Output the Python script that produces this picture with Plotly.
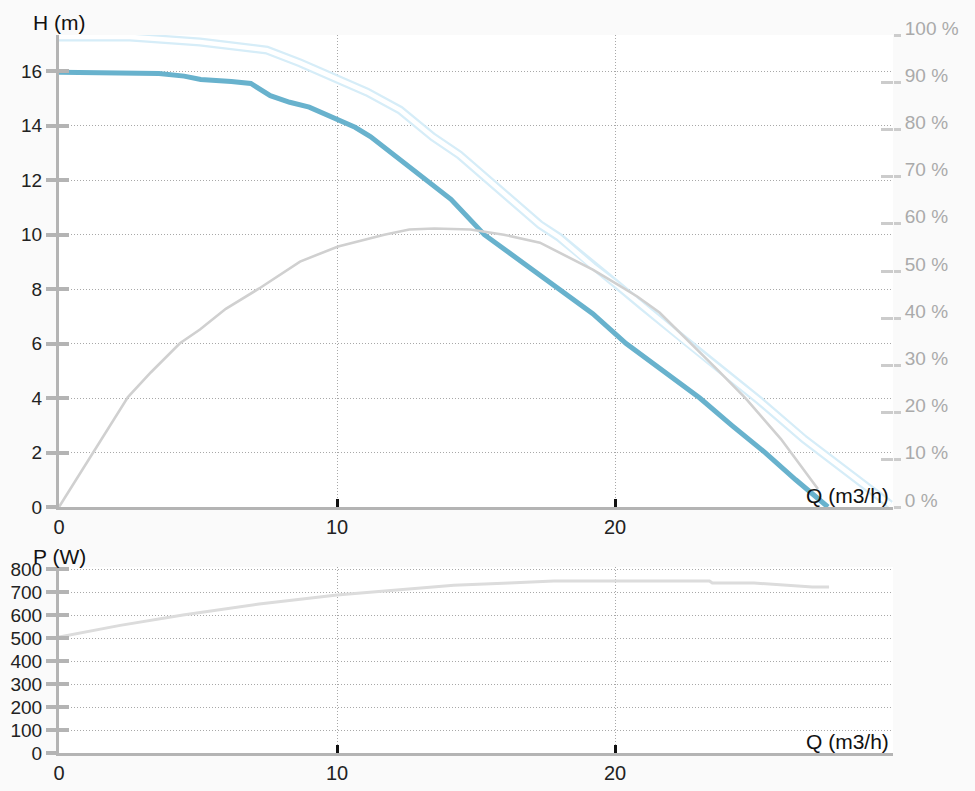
import plotly.graph_objects as go

# ---- data ----
q_head = [0, 2.0, 3.6, 4.5, 5.1, 6.2, 6.9, 7.6, 8.3, 9.0, 9.4, 10.0, 10.65, 11.2, 12.0,
          13.2, 14.1, 15.3, 16.5, 18.0, 19.2, 20.4, 21.5, 23.05, 24.2, 25.4, 26.5, 27.66]
head_m = [15.96, 15.95, 15.92, 15.82, 15.7, 15.62, 15.55, 15.1, 14.86, 14.68, 14.5, 14.2, 13.94,
          13.6, 12.95, 12.0, 11.3, 10.0, 9.1, 8.0, 7.1, 6.0, 5.15, 4.0, 3.0, 2.0, 1.0, 0.0]

q_eff = [0, 1.22, 2.48, 3.3, 4.35, 5.07, 6.0, 7.2, 8.67, 10.04, 11.7, 12.6, 13.5, 14.8, 16.0,
         17.3, 18.0, 19.2, 20.1, 20.8, 21.6, 22.7, 23.7, 24.7, 25.97, 27.3]
eff_pct = [0, 11.6, 23.3, 28.5, 34.7, 37.6, 42.0, 46.3, 52.0, 55.2, 57.7, 58.8, 59.0, 58.8, 57.7,
           56.0, 53.9, 50.3, 47.1, 44.6, 41.2, 34.9, 29.0, 23.0, 14.4, 3.8]

q_light = [0, 2.55, 5.07, 7.48, 8.67, 9.86, 11.08, 12.27, 13.45, 14.4, 15.86, 17.3, 18.0, 19.2,
           20.07, 21.0, 21.6, 22.45, 23.5, 25.2, 26.8, 28.3, 29.9]
light_pct = [99.6, 99.6, 98.5, 96.8, 94.1, 91.1, 87.9, 84.1, 78.4, 74.6, 67.2, 59.8, 57.1, 51.0,
             47.1, 42.5, 39.7, 35.5, 30.5, 22.5, 14.4, 7.8, 0.5]

q_power = [0, 2.2, 4.46, 7.2, 10.0, 13.0, 14.2, 16.2, 17.8, 23.4, 23.5, 25.0, 26.2, 27.1, 27.7]
power_w = [504, 555, 600, 648, 687, 717, 730, 739, 748, 748, 739, 739, 730, 722, 722]

x_ticks = [0, 10, 20]
h_ticks = [0, 2, 4, 6, 8, 10, 12, 14, 16]
pct_ticks = [0, 10, 20, 30, 40, 50, 60, 70, 80, 90, 100]
pct_labels = [f"{v} %" for v in pct_ticks]
p_ticks = [0, 100, 200, 300, 400, 500, 600, 700, 800]

H_RANGE = [0, 17.33]
PCT_RANGE = [0, 100]
P_RANGE = [0, 808.7]
Q_RANGE = [0, 30]

FONT = "Liberation Sans, Arial, sans-serif"
AX_GRAY = "#b4b4b4"
RT_GRAY = "#cccccc"
GRID = "#a8a8a8"
DOT = "1px,2px"

fig = go.Figure()

# head (base axis)
fig.add_trace(go.Scatter(x=q_head, y=head_m, xaxis="x", yaxis="y", mode="lines",
                         line=dict(color="#68b2cd", width=5), hoverinfo="skip", showlegend=False))
# light blue circle chain (drawn as a hollow band)
fig.add_trace(go.Scatter(x=q_light, y=light_pct, xaxis="x", yaxis="y2", mode="lines",
                         line=dict(color="#d6edf8", width=9), hoverinfo="skip", showlegend=False))
fig.add_trace(go.Scatter(x=q_light, y=light_pct, xaxis="x", yaxis="y2", mode="lines",
                         line=dict(color="#ffffff", width=4.5), hoverinfo="skip", showlegend=False))
# efficiency
fig.add_trace(go.Scatter(x=q_eff, y=eff_pct, xaxis="x", yaxis="y2", mode="lines",
                         line=dict(color="#d0d0d0", width=2.6), hoverinfo="skip", showlegend=False))
# power
fig.add_trace(go.Scatter(x=q_power, y=power_w, xaxis="x2", yaxis="y3", mode="lines",
                         line=dict(color="#dcdcdc", width=3), hoverinfo="skip", showlegend=False))
# empty traces so the inner-tick axes get drawn
for ya, xa in (("y4", "x"), ("y5", "x"), ("y6", "x2")):
    fig.add_trace(go.Scatter(x=[None], y=[None], xaxis=xa, yaxis=ya, mode="lines",
                             hoverinfo="skip", showlegend=False))

top_dom = [0.3426, 1.0]
bot_dom = [0.0, 0.259]

xcommon = dict(range=Q_RANGE, tickvals=x_ticks, showgrid=True, gridcolor=GRID, griddash=DOT,
               gridwidth=1, showline=True, linecolor=AX_GRAY, linewidth=3, ticks="inside",
               ticklen=8, tickwidth=3, tickcolor="#111111", zeroline=False,
               tickfont=dict(size=20, color="#222222", family=FONT), fixedrange=True)

ybase = dict(showline=True, linecolor=AX_GRAY, linewidth=3, ticks="outside", ticklen=10,
             tickwidth=4, tickcolor=AX_GRAY, showgrid=True, gridcolor=GRID, griddash=DOT,
             gridwidth=1, zeroline=False, tickfont=dict(size=19, color="#222222", family=FONT),
             fixedrange=True)

yinner = dict(showticklabels=False, showgrid=False, showline=False, zeroline=False,
              ticks="inside", fixedrange=True)

fig.update_layout(
    width=975, height=791,
    margin=dict(l=59, r=82, t=35, b=38, autoexpand=False),
    paper_bgcolor="#fafafa", plot_bgcolor="#ffffff",
    font=dict(family=FONT),
    showlegend=False,
    xaxis=dict(anchor="y", domain=[0, 1], **xcommon),
    xaxis2=dict(anchor="y3", domain=[0, 1], **xcommon),
    yaxis=dict(domain=top_dom, anchor="x", range=H_RANGE, tickvals=h_ticks, **ybase),
    yaxis2=dict(overlaying="y", side="right", anchor="x", range=PCT_RANGE, tickvals=pct_ticks,
                ticktext=pct_labels, showgrid=False, showline=False, zeroline=False,
                ticks="outside", ticklen=7, tickwidth=3, tickcolor=RT_GRAY,
                ticklabelshift=-7,
                tickfont=dict(size=19, color="#aaaaaa", family=FONT), fixedrange=True),
    yaxis3=dict(domain=bot_dom, anchor="x2", range=P_RANGE, tickvals=p_ticks, **ybase),
    yaxis4=dict(overlaying="y", side="left", anchor="x", range=H_RANGE, tickvals=h_ticks,
                ticklen=10, tickwidth=4, tickcolor=AX_GRAY, **yinner),
    yaxis5=dict(overlaying="y", side="right", anchor="x", range=PCT_RANGE, tickvals=pct_ticks,
                ticklen=12, tickwidth=3, tickcolor=RT_GRAY, **yinner),
    yaxis6=dict(overlaying="y3", side="left", anchor="x2", range=P_RANGE, tickvals=p_ticks,
                ticklen=10, tickwidth=4, tickcolor=AX_GRAY, **yinner),
    annotations=[
        dict(text="H (m)", xref="paper", yref="paper", x=0, y=1, xanchor="center",
             yanchor="middle", yshift=13, showarrow=False,
             font=dict(size=21, color="#111111", family=FONT)),
        dict(text="P (W)", xref="paper", yref="paper", x=0, y=0.259, xanchor="center",
             yanchor="middle", yshift=11, showarrow=False,
             font=dict(size=21, color="#111111", family=FONT)),
        dict(text="Q (m3/h)", xref="paper", yref="paper", x=1, y=0.3426, xanchor="right",
             yanchor="bottom", xshift=-2, yshift=-2, showarrow=False,
             font=dict(size=21, color="#111111", family=FONT)),
        dict(text="Q (m3/h)", xref="paper", yref="paper", x=1, y=0.0, xanchor="right",
             yanchor="bottom", xshift=-2, yshift=-2, showarrow=False,
             font=dict(size=21, color="#111111", family=FONT)),
    ],
)

fig.write_html(
    "out.html",
    config={"displayModeBar": False, "staticPlot": True},
    post_script="document.body.style.margin='0';document.body.style.background='#fafafa';",
)
